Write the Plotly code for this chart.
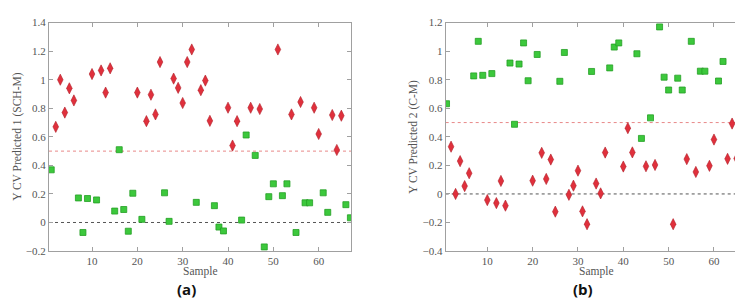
import plotly.graph_objects as go

# ---------------- data ----------------
red_idx = [2, 3, 4, 5, 6, 10, 12, 13, 14, 20, 22, 23, 24, 25, 28, 29, 30, 31, 32, 34, 35, 36,
           40, 41, 42, 45, 47, 51, 54, 56, 59, 60, 63, 64, 65]
green_idx = [1, 7, 8, 9, 11, 15, 16, 17, 18, 19, 21, 26, 27, 33, 37, 38, 39, 43, 44, 46, 48, 49,
             50, 52, 53, 55, 57, 58, 61, 62, 66, 67]

# panel (a): Y CV Predicted 1 (SCH-M)
red_a = [0.67, 1.00, 0.77, 0.94, 0.855, 1.04, 1.065, 0.91, 1.08, 0.91, 0.71, 0.895, 0.757, 1.124,
         1.008, 0.943, 0.837, 1.124, 1.212, 0.927, 0.994, 0.712, 0.804, 0.539, 0.71, 0.804, 0.795,
         1.212, 0.757, 0.844, 0.804, 0.62, 0.753, 0.508, 0.748]
green_a = [0.369, 0.172, -0.07, 0.168, 0.158, 0.08, 0.51, 0.091, -0.061, 0.205, 0.022, 0.208, 0.008,
           0.141, 0.118, -0.032, -0.059, 0.017, 0.613, 0.47, -0.171, 0.181, 0.271, 0.188, 0.271,
           -0.07, 0.138, 0.138, 0.208, 0.071, 0.125, 0.033]

# panel (b): Y CV Predicted 2 (C-M)
red_b = [0.331, 0.0, 0.23, 0.055, 0.145, -0.043, -0.064, 0.091, -0.082, 0.093, 0.288, 0.105, 0.241,
         -0.124, -0.006, 0.058, 0.163, -0.122, -0.212, 0.073, 0.004, 0.29, 0.192, 0.461, 0.291,
         0.194, 0.203, -0.212, 0.244, 0.154, 0.197, 0.381, 0.246, 0.493, 0.248]
green_b = [0.632, 0.827, 1.069, 0.831, 0.843, 0.917, 0.488, 0.91, 1.058, 0.793, 0.977, 0.789, 0.991,
           0.858, 0.883, 1.029, 1.058, 0.982, 0.389, 0.533, 1.17, 0.818, 0.728, 0.811, 0.728, 1.069,
           0.86, 0.86, 0.791, 0.928, 0.874, 0.968]

x_ticks = [10, 20, 30, 40, 50, 60]
ya_ticks = [-0.2, 0, 0.2, 0.4, 0.6, 0.8, 1, 1.2, 1.4]
ya_labels = ["\u22120.2", "0", "0.2", "0.4", "0.6", "0.8", "1", "1.2", "1.4"]
yb_ticks = [-0.4, -0.2, 0, 0.2, 0.4, 0.6, 0.8, 1, 1.2]
yb_labels = ["\u22120.4", "\u22120.2", "0", "0.2", "0.4", "0.6", "0.8", "1", "1.2"]
threshold = 0.5

# ---------------- style ----------------
RED = "#e0303c"
RED_LINE = "#b01e28"
GREEN = "#3cc83c"
GREEN_LINE = "#24a024"
AXIS = "#a0a0a0"
TXT = "#555555"
SERIF = "Liberation Serif, DejaVu Serif, serif"

W, H = 743, 298
fig = go.Figure()

def add_panel(xa, ya, red_vals, green_vals):
    fig.add_trace(go.Scatter(x=green_idx, y=green_vals, mode="markers", xaxis=xa, yaxis=ya,
                             marker=dict(symbol="square", size=6, color=GREEN,
                                         line=dict(color=GREEN_LINE, width=0.8)),
                             showlegend=False, cliponaxis=True))
    fig.add_trace(go.Scatter(x=red_idx, y=red_vals, mode="markers", xaxis=xa, yaxis=ya,
                             marker=dict(symbol="diamond-tall", size=8, color=RED,
                                         line=dict(color=RED_LINE, width=0.6)),
                             showlegend=False, cliponaxis=True))

add_panel("x", "y", red_a, green_a)
add_panel("x2", "y2", red_b, green_b)

def xaxis(domain, rng):
    return dict(domain=domain, range=rng, tickvals=x_ticks, ticks="inside", ticklen=4,
                tickcolor=AXIS, showline=True, linecolor=AXIS, linewidth=1, mirror="ticks",
                showgrid=False, zeroline=False, tickfont=dict(family=SERIF, size=11, color=TXT))

def yaxis(domain, rng, tv, tt, anchor):
    return dict(domain=domain, range=rng, tickvals=tv, ticktext=tt, ticks="inside", ticklen=4,
                tickcolor=AXIS, showline=True, linecolor=AXIS, linewidth=1, mirror="ticks",
                showgrid=False, zeroline=False, anchor=anchor,
                tickfont=dict(family=SERIF, size=11, color=TXT))

ydom = [(H - 247) / H, (H - 9) / H]
xa_dom = [41 / W, 343 / W]
xb_dom = [437.7 / W, 738.7 / W]

fig.update_layout(
    width=W, height=H, margin=dict(l=0, r=0, t=0, b=0),
    paper_bgcolor="white", plot_bgcolor="white",
    xaxis=dict(xaxis(xa_dom, [0.51, 67.13]), anchor="y"),
    yaxis=yaxis(ydom, [-0.2, 1.4], ya_ticks, ya_labels, "x"),
    xaxis2=dict(xaxis(xb_dom, [0.82, 67.22]), anchor="y2"),
    yaxis2=yaxis(ydom, [-0.4, 1.2], yb_ticks, yb_labels, "x2"),
)

# reference lines
for xr, yr in (("x", "y"), ("x2", "y2")):
    fig.add_shape(type="line", xref=f"{xr} domain", yref=yr, x0=0, x1=1, y0=threshold, y1=threshold,
                  line=dict(color="#e88888", width=1, dash="dot"), layer="below")
    fig.add_shape(type="line", xref=f"{xr} domain", yref=yr, x0=0, x1=1, y0=0, y1=0,
                  line=dict(color="#555555", width=1, dash="dot"), layer="below")

# titles
ann = [
    dict(text="Y CV Predicted 1 (SCH-M)", x=10 / W, y=(H - 128) / H, textangle=-90,
         font=dict(family=SERIF, size=11.5, color=TXT)),
    dict(text="Y CV Predicted 2 (C-M)", x=406 / W, y=(H - 128) / H, textangle=-90,
         font=dict(family=SERIF, size=11.5, color=TXT)),
    dict(text="Sample", x=192 / W, y=(H - 268) / H, font=dict(family=SERIF, size=11.5, color=TXT)),
    dict(text="Sample", x=588 / W, y=(H - 268) / H, font=dict(family=SERIF, size=11.5, color=TXT)),
    dict(text="<b>(a)</b>", x=178 / W, y=(H - 287) / H,
         font=dict(family="Open Sans, sans-serif", size=15, color="#111111")),
    dict(text="<b>(b)</b>", x=575 / W, y=(H - 287) / H,
         font=dict(family="Open Sans, sans-serif", size=15, color="#111111")),
]
for a in ann:
    fig.add_annotation(xref="paper", yref="paper", showarrow=False, xanchor="center",
                       yanchor="middle", **a)

fig.write_html("out.html")
